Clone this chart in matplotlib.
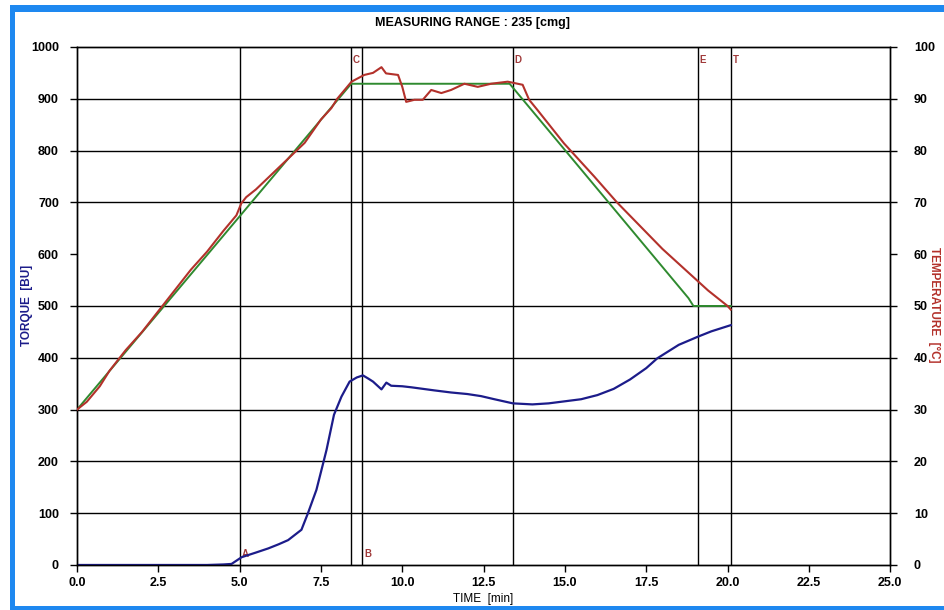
import numpy as np
import matplotlib
matplotlib.use("Agg")
import matplotlib.pyplot as plt
from matplotlib.patches import Rectangle

plt.rcParams['font.family'] = ['Liberation Sans Narrow', 'Liberation Sans', 'DejaVu Sans']
plt.rcParams['font.weight'] = 'bold'

# torque curve [BU]
torque_time = [0.0, 1.0, 2.0, 3.0, 4.0, 4.5, 4.75, 5.06, 5.5, 5.88, 6.2, 6.49, 6.9, 7.1, 7.36,
               7.57, 7.67, 7.9, 8.13, 8.38, 8.6, 8.79, 8.95, 9.1, 9.36, 9.51, 9.66, 10.0,
               10.28, 10.99, 11.5, 12.0, 12.42, 12.83, 13.4, 14.0, 14.5, 15.0, 15.5, 16.0,
               16.5, 17.0, 17.5, 17.84, 18.5, 19.1, 19.5, 20.1]
torque = [0, 0, 0, 0, 0, 1, 2, 15, 24, 32, 40, 48, 68, 100, 145,
          197, 222, 290, 325, 354, 362, 366, 360, 354, 339, 352, 346, 345,
          343, 337, 333, 330, 326, 320, 312, 310, 312, 316, 320, 328,
          340, 358, 380, 399, 425, 441, 451, 463]

# measured temperature [°C]
temp_time = [0.0, 0.3, 0.7, 1.0, 1.5, 2.0, 2.5, 3.0, 3.5, 4.0, 4.5, 4.9, 5.05, 5.2, 5.5,
             6.0, 6.5, 7.0, 7.5, 7.82, 8.0, 8.44, 8.83, 9.1, 9.36, 9.5, 9.87, 10.0, 10.12,
             10.37, 10.63, 10.89, 11.2, 11.5, 11.91, 12.32, 12.73, 13.24, 13.7, 13.9,
             14.16, 14.97, 15.9, 16.6, 17.3, 18.0, 18.7, 19.4, 20.0, 20.1]
temp = [30.0, 31.5, 34.5, 37.5, 41.5, 45.0, 49.0, 53.0, 57.0, 60.5, 64.5, 67.5, 69.8, 71.0, 72.5,
        75.5, 78.5, 81.5, 86.0, 88.2, 90.0, 93.3, 94.6, 95.0, 96.1, 94.9, 94.6, 92.3, 89.4,
        89.8, 89.8, 91.7, 91.1, 91.7, 92.9, 92.3, 92.9, 93.3, 92.7, 89.8,
        87.8, 81.4, 75.0, 70.0, 65.5, 61.0, 57.0, 53.0, 50.0, 49.3]

# temperature program [°C]
prog_time = [0.0, 8.43, 13.3, 18.8, 18.95, 20.1]
prog_temp = [30.0, 92.9, 92.9, 51.5, 50.0, 50.0]

# marker times
mark_names = ['A', 'C', 'B', 'D', 'E', 'T']
mark_times = [5.0, 8.43, 8.77, 13.4, 19.08, 20.12]
mark_top = [False, True, False, True, True, True]

torque_color = '#1c1c8a'
temp_color = '#b3312b'
prog_color = '#2f8a2f'

fig = plt.figure(figsize=(9.45, 6.1), dpi=100)
ax = fig.add_axes([0.0815, 0.0738, 0.8605, 0.8492])
ax2 = ax.twinx()

ax.set_xlim(0, 25)
ax.set_ylim(0, 1000)
ax2.set_ylim(0, 100)

for v in [100, 200, 300, 400, 500, 700, 800, 900]:
    ax.axhline(v, color='black', lw=1.0, zorder=1)
for name, t, top in zip(mark_names, mark_times, mark_top):
    ax.axvline(t, color='black', lw=1.0, zorder=1)
    if top:
        ax.text(t + 0.05, 985, name, color='#a03a3a', fontsize=7, va='top', ha='left')
    else:
        ax.text(t + 0.05, 12, name, color='#a03a3a', fontsize=7, va='bottom', ha='left')

ax.plot(torque_time, torque, color=torque_color, lw=1.6, zorder=3)
ax2.plot(prog_time, prog_temp, color=prog_color, lw=1.4, zorder=2)
ax2.plot(temp_time, temp, color=temp_color, lw=1.5, zorder=3)

ax.set_xticks(np.arange(0, 25.1, 2.5))
ax.set_xticklabels(['%.1f' % v for v in np.arange(0, 25.1, 2.5)])
ax.set_yticks(np.arange(0, 1001, 100))
ax.set_yticklabels([str(v) for v in range(0, 1001, 100)])
ax2.set_yticks(np.arange(0, 101, 10))
ax2.set_yticklabels([str(v) for v in range(0, 101, 10)])

for a in (ax, ax2):
    a.tick_params(direction='out', length=5, width=1, labelsize=9, colors='black')
    for s in a.spines.values():
        s.set_linewidth(1.0)
ax2.tick_params(axis='y', pad=12)
ax.tick_params(axis='y', pad=8)

ax.set_xlabel('TIME  [min]', fontsize=8.5, labelpad=3)
fig.text(27 / 945, 0.5, 'TORQUE  [BU]', fontsize=8.5, color=torque_color,
         rotation=90, ha='center', va='center')
fig.text(934 / 945, 0.5, 'TEMPERATURE  [°C]', fontsize=8.5, color=temp_color,
         rotation=270, ha='center', va='center')
fig.text(0.5, 0.962, 'MEASURING RANGE : 235 [cmg]', ha='center', va='center', fontsize=9)

# blue frame
blue = '#1e88f0'
fig.add_artist(Rectangle((10 / 945, 1 - 12 / 610), 1 - 10 / 945, 7 / 610,
                         transform=fig.transFigure, color=blue, lw=0))
fig.add_artist(Rectangle((10 / 945, 3 / 610), 5 / 945, 1 - 15 / 610,
                         transform=fig.transFigure, color=blue, lw=0))
fig.add_artist(Rectangle((10 / 945, 0), 1 - 10 / 945, 4 / 610,
                         transform=fig.transFigure, color=blue, lw=0))

fig.savefig('out.png', dpi=100)
